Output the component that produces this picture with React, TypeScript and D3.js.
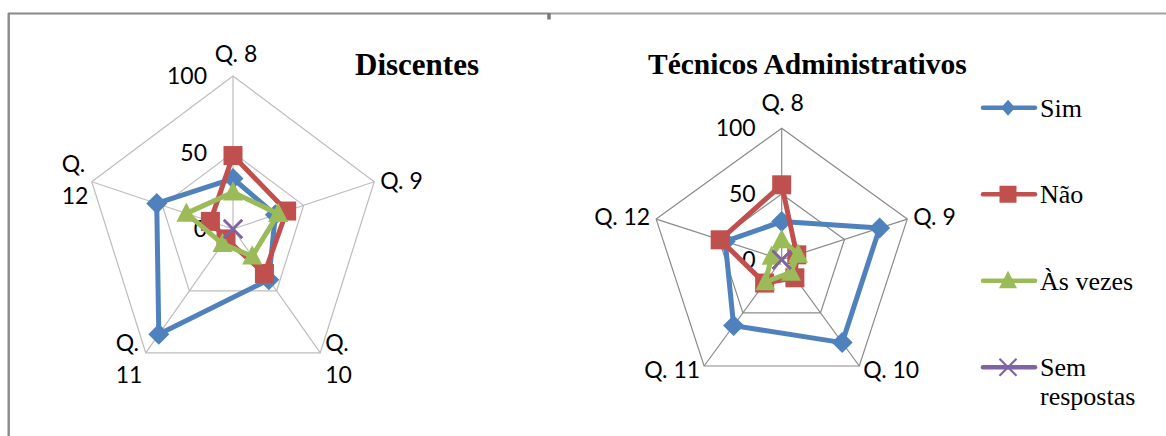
import React from 'react';
import * as d3 from 'd3';

// categories (radar axes)
const axisNames = ['Q. 8', 'Q. 9', 'Q. 10', 'Q. 11', 'Q. 12'];
const ringTicks = [0, 50, 100];
const seriesNames = ['Sim', 'Não', 'Às vezes', 'Sem respostas'];

// Discentes
const discSim = [33, 30, 41, 85, 54];
const discNao = [48, 38, 36, 8, 16];
const discAsVezes = [24, 32, 22, 12, 33];
const discSemResp = [0, 0, 0, 0, 0];

// Técnicos Administrativos
const tecSim = [29, 78, 78, 62, 45];
const tecNao = [57, 12, 17, 22, 49];
const tecAsVezes = [15, 13, 12, 21, 8];
const tecSemResp = [0, 0, 0, 0, 0];

const colors = ['#4F81BD', '#C0504D', '#9BBB59', '#8064A2'];
const markerTypes = ['diamond', 'square', 'triangle', 'x'];

const labelFont = 'Lato, "Liberation Sans", sans-serif';
const serifFont = '"Liberation Serif", "Times New Roman", serif';

const Marker = ({ type, x, y, color, big = true }) => {
  if (type === 'diamond') {
    const w = big ? 10.5 : 7;
    const h = big ? 10.5 : 8;
    return <path d={`M${x},${y - h}L${x + w},${y}L${x},${y + h}L${x - w},${y}Z`} fill={color} />;
  }
  if (type === 'square') {
    const s = big ? 19 : 17;
    return <rect x={x - s / 2} y={y - s / 2} width={s} height={s} fill={color} />;
  }
  if (type === 'triangle') {
    const w = big ? 10 : 9;
    const h = big ? 1.1 : 1;
    return (
      <path
        d={`M${x},${y - 10 * h}L${x + w},${y + 7.5 * h}L${x - w},${y + 7.5 * h}Z`}
        fill={color}
      />
    );
  }
  const s = big ? 9 : 8.5;
  return (
    <path
      d={`M${x - s},${y - s}L${x + s},${y + s}M${x - s},${y + s}L${x + s},${y - s}`}
      stroke={color}
      strokeWidth={2.2}
    />
  );
};

const Radar = ({ cx, cy, rx, ry, gridColor, series, labels }) => {
  const r = d3.scaleLinear().domain([0, 100]).range([0, 1]);
  const angle = d3
    .scalePoint()
    .domain(axisNames)
    .range([0, (2 * Math.PI * (axisNames.length - 1)) / axisNames.length]);

  const pos = (name, v) => {
    const a = angle(name);
    return [cx + r(v) * rx * Math.sin(a), cy - r(v) * ry * Math.cos(a)];
  };

  const line = d3.line().curve(d3.curveLinearClosed);

  return (
    <g>
      {/* grid */}
      {ringTicks
        .filter((t) => t > 0)
        .map((t) => (
          <path
            key={t}
            d={line(axisNames.map((n) => pos(n, t)))}
            fill="none"
            stroke={gridColor}
            strokeWidth={1.2}
          />
        ))}
      {axisNames.map((n) => {
        const [x, y] = pos(n, 100);
        return <line key={n} x1={cx} y1={cy} x2={x} y2={y} stroke={gridColor} strokeWidth={1.2} />;
      })}
      {ringTicks.map((t) => {
        const [, y] = pos(axisNames[0], t);
        return (
          <text
            key={t}
            x={cx - 26}
            y={y + 8}
            textAnchor="end"
            fontFamily={labelFont}
            fontSize={23}
            fill="#000"
          >
            {t}
          </text>
        );
      })}
      {/* axis labels */}
      {axisNames.map((n, i) => {
        const [vx, vy] = pos(n, 100);
        const l = labels[i];
        return (
          <text
            key={n}
            x={vx + l.dx}
            y={vy + l.dy}
            textAnchor={l.anchor}
            fontFamily={labelFont}
            fontSize={23}
            fill="#000"
          >
            {l.lines.map((s, j) => (
              <tspan key={j} x={vx + l.dx} dy={j === 0 ? 0 : 32}>
                {s}
              </tspan>
            ))}
          </text>
        );
      })}
      {/* series */}
      {series.map((vals, si) => {
        const pts = axisNames.map((n, i) => pos(n, vals[i]));
        return (
          <g key={si}>
            <path
              d={line(pts)}
              fill="none"
              stroke={colors[si]}
              strokeWidth={5}
              strokeLinejoin="round"
            />
            {pts.map(([x, y], i) => (
              <Marker key={i} type={markerTypes[si]} x={x} y={y} color={colors[si]} />
            ))}
          </g>
        );
      })}
    </g>
  );
};

const discLabels = [
  { lines: ['Q. 8'], dx: 3, dy: -14, anchor: 'middle' },
  { lines: ['Q. 9'], dx: 6, dy: 7, anchor: 'start' },
  { lines: ['Q.', '10'], dx: 5, dy: -2, anchor: 'start' },
  { lines: ['Q.', '11'], dx: -30, dy: -2, anchor: 'start' },
  { lines: ['Q.', '12'], dx: -30, dy: -10, anchor: 'start' },
];

const tecLabels = [
  { lines: ['Q. 8'], dx: 1, dy: -17, anchor: 'middle' },
  { lines: ['Q. 9'], dx: 6, dy: 6, anchor: 'start' },
  { lines: ['Q. 10'], dx: 4, dy: 12, anchor: 'start' },
  { lines: ['Q. 11'], dx: -4, dy: 12, anchor: 'end' },
  { lines: ['Q. 12'], dx: -6, dy: 6, anchor: 'end' },
];

const legendY = d3.scalePoint().domain(seriesNames).range([107.7, 367.3]);

export default function App() {
  return (
    <svg
      width={1166}
      height={436}
      style={{ position: 'absolute', left: 0, top: 0, background: '#fff' }}
    >
      <rect width={1166} height={436} fill="#fff" />
      {/* frame */}
      <line x1={8} y1={13.5} x2={549} y2={13.5} stroke="#8a8a8a" strokeWidth={2} />
      <line x1={549} y1={13.5} x2={1166} y2={13.5} stroke="#a2a2a2" strokeWidth={1.8} />
      <line x1={8.7} y1={13} x2={8.7} y2={436} stroke="#8a8a8a" strokeWidth={2.4} />
      <line x1={549} y1={13} x2={549} y2={19.5} stroke="#7a7a7a" strokeWidth={3.5} />

      <text x={355} y={75} fontFamily={serifFont} fontWeight="bold" fontSize={31} fill="#000">
        Discentes
      </text>
      <text x={648} y={74} fontFamily={serifFont} fontWeight="bold" fontSize={29.5} fill="#000">
        Técnicos Administrativos
      </text>

      <Radar
        cx={233}
        cy={229}
        rx={148.5}
        ry={153}
        gridColor="#bdbdbd"
        series={[discSim, discNao, discAsVezes, discSemResp]}
        labels={discLabels}
      />
      <Radar
        cx={781.7}
        cy={259.7}
        rx={132}
        ry={131.4}
        gridColor="#8a8a8a"
        series={[tecSim, tecNao, tecAsVezes, tecSemResp]}
        labels={tecLabels}
      />

      {/* legend */}
      {seriesNames.map((name, i) => {
        const y = legendY(name);
        const words = name === 'Sem respostas' ? ['Sem', 'respostas'] : [name];
        return (
          <g key={name}>
            <line
              x1={983}
              y1={y}
              x2={1035}
              y2={y}
              stroke={colors[i]}
              strokeWidth={4.5}
              strokeLinecap="round"
            />
            <Marker type={markerTypes[i]} x={1008} y={y} color={colors[i]} big={false} />
            <text x={1040} y={y + 8.8} fontFamily={serifFont} fontSize={26} fill="#000">
              {words.map((w, j) => (
                <tspan key={j} x={1040} dy={j === 0 ? 0 : 28.5}>
                  {w}
                </tspan>
              ))}
            </text>
          </g>
        );
      })}
    </svg>
  );
}
